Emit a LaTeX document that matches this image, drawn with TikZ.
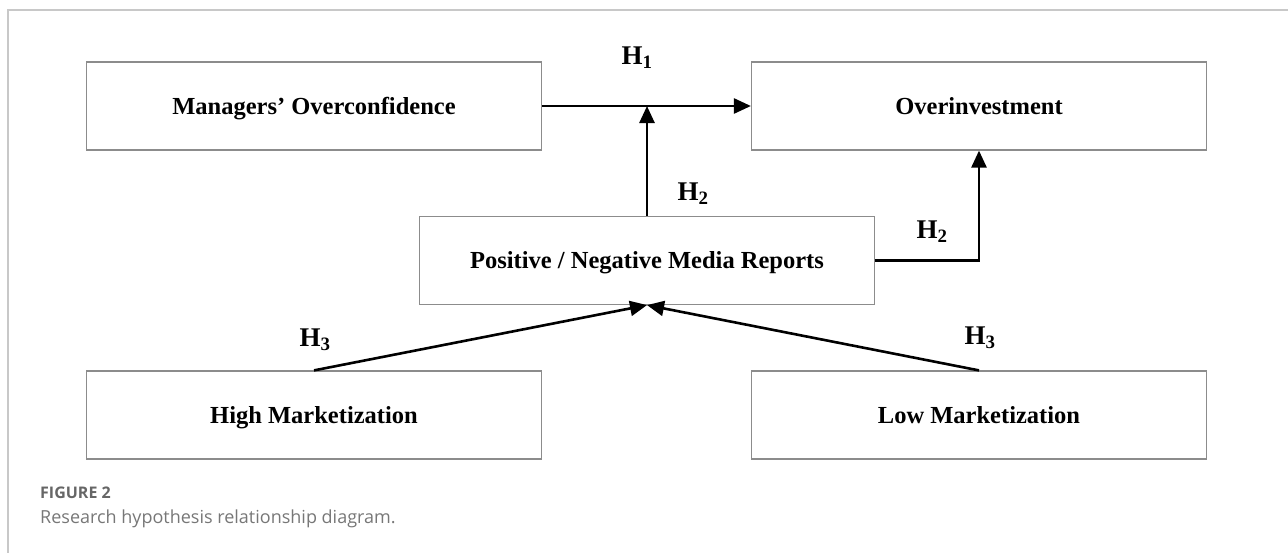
\documentclass[tikz,border=0pt]{standalone}
\usepackage{fontspec}
\setmainfont{Liberation Serif}
\newfontfamily\capfont{Open Sans}
\usetikzlibrary{arrows.meta, positioning, calc}
\definecolor{boxgray}{HTML}{8C8C8C}
\definecolor{framegray}{HTML}{C8C8C8}
\definecolor{capgray}{HTML}{666666}
\definecolor{textgray}{HTML}{777777}

\begin{document}
\begin{tikzpicture}[
  x=1pt, y=-1pt,
  block/.style = {draw=boxgray, line width=1.2pt, minimum height=88pt, minimum width=455pt, align=center, inner sep=0pt, text height=18pt, text depth=2pt, font=\fontsize{24.5}{29}\selectfont\bfseries},
  arrow/.style = {line width=2.6pt, -{Triangle[length=17pt, width=15pt]}},
  hyp/.style = {inner sep=0pt, font=\fontsize{27}{30}\selectfont\bfseries}
]
\useasboundingbox (0,0) rectangle (1288,552);

% Frame
\draw[framegray, line width=1.5pt] (8,560) -- (8,10) -- (1296,10);

% Blocks
\node[block] (mgr) at (314,106) {Managers' Overconfidence};
\node[block] (over) at (979,106) {Overinvestment};
\node[block] (media) at (647,260.5) {Positive / Negative Media Reports};
\node[block] (high) at (314,415) {High Marketization};
\node[block] (low) at (979,415) {Low Marketization};

% H1: overconfidence -> overinvestment
\draw[arrow] (mgr.east) -- (over.west);
\node[hyp] (h1) at (637,58) {H\textsubscript{1}};

% H2: media moderates
\draw[arrow] (media.north) -- (media.north |- mgr.east);
\node[hyp] (h2a) at (693,194) {H\textsubscript{2}};
\draw[arrow] (media.east) -| (over.south);
\node[hyp] (h2b) at (932,232) {H\textsubscript{2}};

% H3: marketization -> media
\draw[arrow] (high.north) -- (media.south);
\node[hyp] (h3a) at (315,340) {H\textsubscript{3}};
\draw[arrow] (low.north) -- (media.south);
\node[hyp] (h3b) at (980,338) {H\textsubscript{3}};

% Caption
\node[anchor=base west, inner sep=0pt, text=capgray, font=\capfont\fontsize{16}{18}\selectfont\bfseries] (fig) at (40,498) {FIGURE 2};
\node[anchor=base west, inner sep=0pt, text=textgray, font=\capfont\fontsize{18}{21}\selectfont] (cap) at (40,523) {Research hypothesis relationship diagram.};

\end{tikzpicture}
\end{document}
